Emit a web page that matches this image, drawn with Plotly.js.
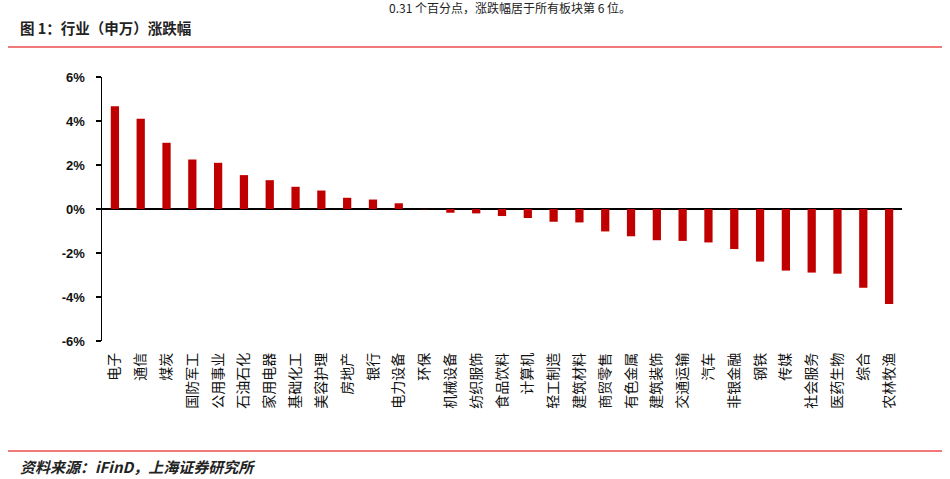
<!DOCTYPE html>
<html>
<head>
<meta charset="utf-8">
<script src="https://cdn.plot.ly/plotly-3.0.1.min.js"></script>
<style>html,body{margin:0;padding:0;background:#fff;}#chart{width:950px;height:479px;}</style>
</head>
<body>
<div id="chart"></div>
<script>
const categories = ["电子","通信","煤炭","国防军工","公用事业","石油石化","家用电器","基础化工","美容护理","房地产","银行","电力设备","环保","机械设备","纺织服饰","食品饮料","计算机","轻工制造","建筑材料","商贸零售","有色金属","建筑装饰","交通运输","汽车","非银金融","钢铁","传媒","社会服务","医药生物","综合","农林牧渔"];
const changes = [4.67,4.10,3.01,2.25,2.10,1.54,1.31,1.01,0.84,0.51,0.43,0.26,-0.01,-0.17,-0.20,-0.32,-0.41,-0.58,-0.61,-1.02,-1.24,-1.42,-1.45,-1.52,-1.82,-2.39,-2.80,-2.89,-2.94,-3.58,-4.32];
const yTickVals = [-6,-4,-2,0,2,4,6];
const yTickText = ["-6%","-4%","-2%","0%","2%","4%","6%"];

const trace = {
  type: 'bar',
  x: categories,
  y: changes,
  marker: {color: '#C00000'},
  width: 0.32,
  hoverinfo: 'x+y'
};

const layout = {
  width: 950, height: 479,
  margin: {l: 102, r: 48, t: 77, b: 138},
  paper_bgcolor: '#ffffff', plot_bgcolor: '#ffffff',
  showlegend: false,
  font: {family: '"Noto Sans CJK SC", "Liberation Sans", sans-serif', color: '#000'},
  xaxis: {
    type: 'category',
    showgrid: false, showline: false, zeroline: false,
    ticks: '', tickangle: -90,
    tickfont: {family: '"Noto Sans CJK SC", sans-serif', size: 14, color: '#111'},
    ticklabelstandoff: 8,
    fixedrange: true
  },
  yaxis: {
    range: [-6, 6],
    tickvals: yTickVals, ticktext: yTickText,
    showgrid: false,
    showline: true, linecolor: '#000', linewidth: 1.5,
    ticks: 'outside', ticklen: 5, tickcolor: '#000', tickwidth: 1.5,
    zeroline: true, zerolinecolor: '#000', zerolinewidth: 1.5,
    tickfont: {family: '"Liberation Sans", Arial, sans-serif', size: 13, color: '#111', weight: 'bold'},
    ticklabelstandoff: 8,
    fixedrange: true
  },
  shapes: [
    {type: 'line', xref: 'paper', yref: 'paper', x0: -0.1175, x1: 1.05, y0: 1.1136, y1: 1.1136, line: {color: '#f07a7a', width: 2}},
    {type: 'line', xref: 'paper', yref: 'paper', x0: -0.1175, x1: 1.05, y0: -0.4167, y1: -0.4167, line: {color: '#f07a7a', width: 2}}
  ],
  annotations: [
    {xref: 'paper', yref: 'paper', x: -0.105, y: 1.189, xanchor: 'left', yanchor: 'middle', showarrow: false,
     text: '<b>图 1：行业（申万）涨跌幅</b>', font: {family: '"Noto Sans CJK SC", sans-serif', size: 14.5, color: '#222'}},
    {xref: 'paper', yref: 'paper', x: 0.51, y: 1.262, xanchor: 'center', yanchor: 'middle', showarrow: false,
     text: '0.31 个百分点，涨跌幅居于所有板块第 6 位。', font: {family: '"Noto Sans CJK SC", sans-serif', size: 12, color: '#222'}},
    {xref: 'paper', yref: 'paper', x: -0.105, y: -0.475, xanchor: 'left', yanchor: 'middle', showarrow: false,
     text: '<b><i>资料来源：iFinD，上海证券研究所</i></b>', font: {family: '"Noto Sans CJK SC", sans-serif', size: 15, color: '#222'}}
  ]
};

Plotly.newPlot('chart', [trace], layout, {displayModeBar: false, staticPlot: true});
</script>
</body>
</html>
